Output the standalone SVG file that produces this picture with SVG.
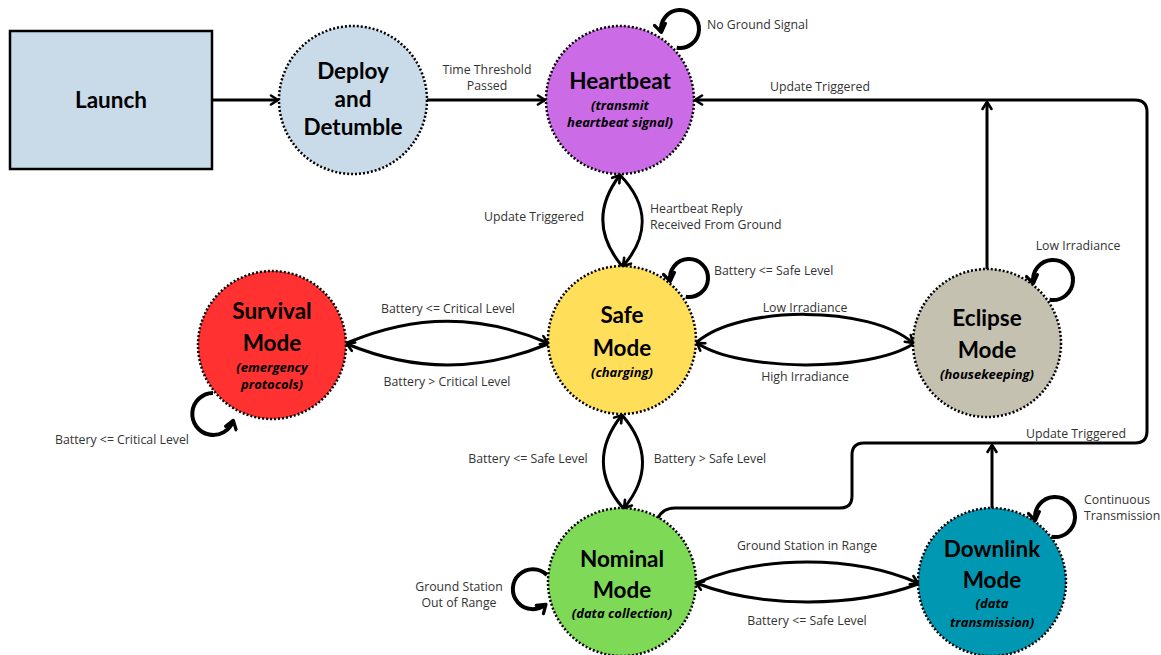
<svg xmlns="http://www.w3.org/2000/svg" width="1161" height="655" viewBox="0 0 1161 655">
<style>
.node{stroke:#000;stroke-width:2.5;stroke-dasharray:2 2}
.title{font-family:Lato,"Open Sans","Liberation Sans",sans-serif;font-weight:700;font-size:22.5px;fill:#000;text-anchor:middle}
.sub{font-family:"Open Sans","Liberation Sans",sans-serif;font-weight:700;font-style:italic;font-size:13px;fill:#000;text-anchor:middle}
.lbl{font-family:"Open Sans","Liberation Sans",sans-serif;font-size:12.3px;fill:#333;text-anchor:middle}
.l{text-anchor:start}
.conn path{fill:none;stroke:#000;stroke-width:3}
.conn path.loop{stroke-width:4}
</style>
<defs>
<marker id="arr" viewBox="0 0 12 12" refX="10" refY="6" markerWidth="12" markerHeight="12" markerUnits="userSpaceOnUse" orient="auto">
<path d="M3,1.5 L10,6 L3,10.5" fill="none" stroke="#000" stroke-width="2.6" stroke-linecap="round" stroke-linejoin="round"/>
</marker>
<marker id="arrL" viewBox="0 0 14 14" refX="11" refY="7" markerWidth="14" markerHeight="14" markerUnits="userSpaceOnUse" orient="auto">
<path d="M3,1.5 L11,7 L3,12.5" fill="none" stroke="#000" stroke-width="3.3" stroke-linecap="round" stroke-linejoin="round"/>
</marker>
</defs>
<rect width="1161" height="655" fill="#fff"/>

<g id="launch">
<rect x="10" y="31" width="202" height="138" fill="#c9dbe9" stroke="#000" stroke-width="2.5"/>
<text class="title" x="111" y="108">Launch</text>
</g>
<g id="deploy">
<circle class="node" cx="353" cy="100" r="74" fill="#c9dbe9"/>
<text class="title" x="353" y="79">Deploy</text>
<text class="title" x="353" y="107">and</text>
<text class="title" x="353" y="135">Detumble</text>
</g>
<g id="heartbeat">
<circle class="node" cx="620" cy="100" r="74" fill="#cb6ce6"/>
<text class="title" x="620" y="89">Heartbeat</text>
<text class="sub" x="620" y="110">(transmit</text>
<text class="sub" x="620" y="127">heartbeat signal)</text>
</g>
<g id="survival">
<circle class="node" cx="272" cy="345" r="74" fill="#ff3131"/>
<text class="title" x="272" y="319">Survival</text>
<text class="title" x="272" y="351">Mode</text>
<text class="sub" x="272" y="372">(emergency</text>
<text class="sub" x="272" y="389">protocols)</text>
</g>
<g id="safe">
<circle class="node" cx="622" cy="340" r="74" fill="#ffde59"/>
<text class="title" x="622" y="323">Safe</text>
<text class="title" x="622" y="356">Mode</text>
<text class="sub" x="622" y="377">(charging)</text>
</g>
<g id="eclipse">
<circle class="node" cx="987" cy="343" r="74" fill="#c5c1b0"/>
<text class="title" x="987" y="326">Eclipse</text>
<text class="title" x="987" y="358">Mode</text>
<text class="sub" x="987" y="379">(housekeeping)</text>
</g>
<g id="nominal">
<circle class="node" cx="622" cy="582" r="74" fill="#7ed957"/>
<text class="title" x="622" y="567">Nominal</text>
<text class="title" x="622" y="598">Mode</text>
<text class="sub" x="622" y="618">(data collection)</text>
</g>
<g id="downlink">
<circle class="node" cx="992" cy="582" r="74" fill="#0097b2"/>
<text class="title" x="992" y="557">Downlink</text>
<text class="title" x="992" y="588">Mode</text>
<text class="sub" x="992" y="608">(data</text>
<text class="sub" x="992" y="627">transmission)</text>
</g>

<g id="connectors" class="conn">
<path d="M212,100 L278,100" marker-end="url(#arr)"/>
<path d="M427,100 L545,100" marker-end="url(#arr)"/>
<path d="M658,518 Q663,508 675,508 L840,508 Q852,508 852,496 L852,455 Q852,443 864,443 L1135,443 Q1147,443 1147,431 L1147,112 Q1147,100 1135,100 L695,100" marker-end="url(#arr)"/>
<path d="M987,269 L987,102" marker-end="url(#arr)"/>
<path d="M992,508 L992,445" marker-end="url(#arr)"/>
<path d="M622,266 C597,236 597,205 620,175" marker-end="url(#arr)"/>
<path d="M620,175 C649,205 649,236 623,266" marker-end="url(#arr)"/>
<path d="M623,508 C597,478 597,446 622,415" marker-end="url(#arr)"/>
<path d="M622,415 C649,446 649,478 624,508" marker-end="url(#arr)"/>
<path d="M347,343 C415,314 480,314 548,343" marker-end="url(#arr)"/>
<path d="M548,344 C480,372 415,372 347,344" marker-end="url(#arr)"/>
<path d="M697,342 C740,305 870,305 913,343" marker-end="url(#arr)"/>
<path d="M913,344 C870,372 740,372 697,343" marker-end="url(#arr)"/>
<path d="M696,583 C760,555 854,555 918,583" marker-end="url(#arr)"/>
<path d="M918,584 C854,608 760,608 696,583" marker-end="url(#arr)"/>
<path class="loop" d="M676.7,47.7 A19,19 0 1 0 661.3,32.3" marker-end="url(#arrL)"/>
<path class="loop" d="M685.7,296.7 A19,19 0 1 0 670.3,281.3" marker-end="url(#arrL)"/>
<path class="loop" d="M1049.5,299.7 A20,20 0 1 0 1033.3,283.5" marker-end="url(#arrL)"/>
<path class="loop" d="M1051.5,536.7 A20,20 0 1 0 1035.3,520.5" marker-end="url(#arrL)"/>
<path class="loop" d="M213,393 A21,21 0 1 0 233.3,420.4" marker-end="url(#arrL)"/>
<path class="loop" d="M547,575 A20,20 0 1 0 545.9,604.3" marker-end="url(#arrL)"/>
</g>

<g id="labels">
<text class="lbl" x="487" y="74">Time Threshold</text>
<text class="lbl" x="487" y="90">Passed</text>
<text class="lbl l" x="707" y="29">No Ground Signal</text>
<text class="lbl" x="820" y="91">Update Triggered</text>
<text class="lbl" x="534" y="221">Update Triggered</text>
<text class="lbl l" x="650" y="213">Heartbeat Reply</text>
<text class="lbl l" x="650" y="229">Received From Ground</text>
<text class="lbl l" x="714" y="275">Battery &lt;= Safe Level</text>
<text class="lbl" x="805" y="312">Low Irradiance</text>
<text class="lbl" x="805" y="381">High Irradiance</text>
<text class="lbl" x="1078" y="250">Low Irradiance</text>
<text class="lbl" x="448" y="313">Battery &lt;= Critical Level</text>
<text class="lbl" x="447" y="386">Battery &gt; Critical Level</text>
<text class="lbl" x="122" y="444">Battery &lt;= Critical Level</text>
<text class="lbl" x="528" y="463">Battery &lt;= Safe Level</text>
<text class="lbl" x="710" y="463">Battery &gt; Safe Level</text>
<text class="lbl" x="459" y="591">Ground Station</text>
<text class="lbl" x="459" y="607">Out of Range</text>
<text class="lbl" x="807" y="550">Ground Station in Range</text>
<text class="lbl" x="807" y="625">Battery &lt;= Safe Level</text>
<text class="lbl" x="1076" y="438">Update Triggered</text>
<text class="lbl l" x="1084" y="504">Continuous</text>
<text class="lbl l" x="1084" y="520">Transmission</text>
</g>
</svg>
